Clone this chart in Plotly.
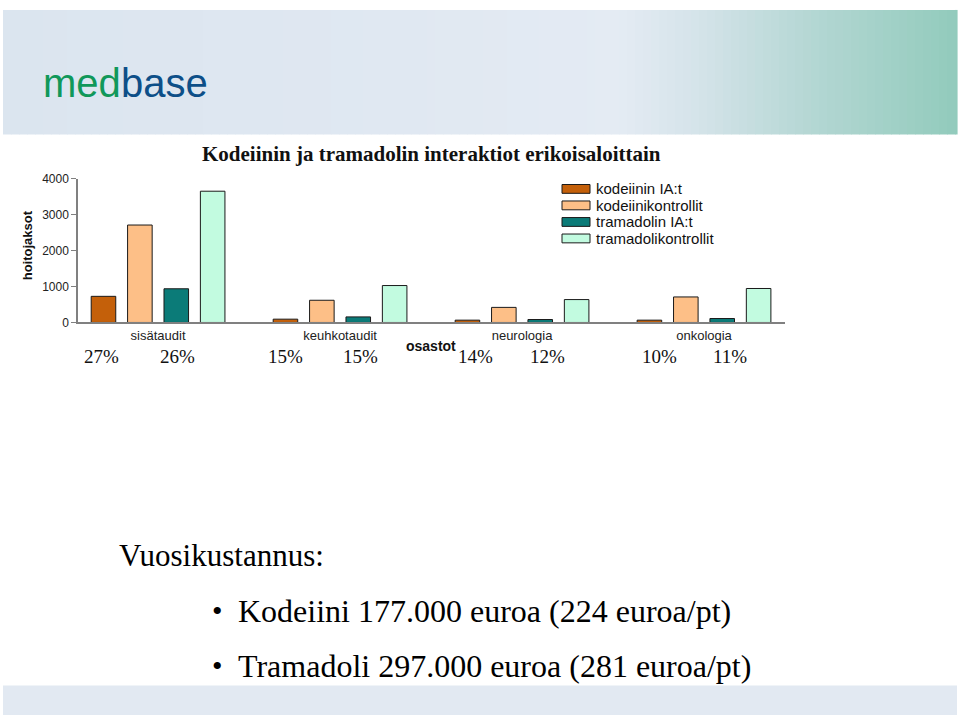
import plotly.graph_objects as go

W, H = 960, 724

# ---------------- data ----------------
categories = ["sisätaudit", "keuhkotaudit", "neurologia", "onkologia"]
series_names = ["kodeiinin IA:t", "kodeiinikontrollit", "tramadolin IA:t", "tramadolikontrollit"]
kodeiini_ia = [727, 92, 65, 65]
kodeiini_kontrollit = [2710, 618, 420, 710]
tramadoli_ia = [937, 155, 82, 110]
tramadoli_kontrollit = [3650, 1027, 637, 945]
series_values = [kodeiini_ia, kodeiini_kontrollit, tramadoli_ia, tramadoli_kontrollit]
y_ticks = [0, 1000, 2000, 3000, 4000]
percent_labels = ["27%", "26%", "15%", "15%", "14%", "12%", "10%", "11%"]

colors = ["#c4600a", "#fdbf87", "#0b7b78", "#c2fbe0"]


def px(x):
    return x / W


def py(y):
    return 1 - y / H


fig = go.Figure()
for name, vals, col in zip(series_names, series_values, colors):
    fig.add_trace(go.Bar(
        x=categories, y=vals, name=name,
        marker=dict(color=col, line=dict(color="#1a1a1a", width=1)),
        showlegend=False,
    ))

shapes = []
annotations = []

# header gradient band
stops = [(3, (219, 229, 239)), (400, (224, 232, 242)), (620, (228, 235, 243)),
         (700, (212, 227, 233)), (820, (178, 214, 210)), (957, (146, 203, 188))]


def grad(x):
    for (x0, c0), (x1, c1) in zip(stops[:-1], stops[1:]):
        if x0 <= x <= x1:
            t = (x - x0) / (x1 - x0)
            return tuple(int(round(a + (b - a) * t)) for a, b in zip(c0, c1))
    return stops[-1][1]


step = 8
x = 3
while x < 957:
    x2 = min(x + step, 957)
    c = grad((x + x2) / 2)
    shapes.append(dict(type="rect", xref="paper", yref="paper",
                       x0=px(x), x1=px(x2 + 0.6), y0=py(130), y1=py(3),
                       fillcolor="rgb(%d,%d,%d)" % c, line=dict(width=0), layer="below"))
    x = x2

# bottom band
shapes.append(dict(type="rect", xref="paper", yref="paper",
                   x0=px(3), x1=px(957), y0=py(722), y1=py(692),
                   fillcolor="#e2e9f2", line=dict(width=0), layer="below"))

# logo
logo_font = "Liberation Sans, Arial"
annotations.append(dict(x=px(41), y=py(77), xref="paper", yref="paper", text="med",
                        showarrow=False, xanchor="left", yanchor="middle",
                        font=dict(family=logo_font, size=40, color="#10985a")))
annotations.append(dict(x=px(119), y=py(77), xref="paper", yref="paper", text="base",
                        showarrow=False, xanchor="left", yanchor="middle",
                        font=dict(family=logo_font, size=40, color="#0d4f88")))

# title
annotations.append(dict(x=px(431), y=py(150), xref="paper", yref="paper",
                        text="<b>Kodeiinin ja tramadolin interaktiot erikoisaloittain</b>",
                        showarrow=False, xanchor="center", yanchor="middle",
                        font=dict(family="Liberation Serif, Times New Roman", size=21, color="#111")))

# y axis title
annotations.append(dict(x=px(27), y=py(243), xref="paper", yref="paper",
                        text="<b>hoitojaksot</b>", textangle=-90,
                        showarrow=False, xanchor="center", yanchor="middle",
                        font=dict(family="Liberation Sans, Arial", size=13, color="#111")))

# x axis title
annotations.append(dict(x=px(431), y=py(346), xref="paper", yref="paper",
                        text="<b>osastot</b>",
                        showarrow=False, xanchor="center", yanchor="middle",
                        font=dict(family="Liberation Sans, Arial", size=14, color="#111")))

# legend (custom swatches)
leg_rows = [185.5, 202.3, 219.2, 236]
for name, col, yc in zip(series_names, colors, leg_rows):
    shapes.append(dict(type="rect", xref="paper", yref="paper",
                       x0=px(562), x1=px(590), y0=py(yc + 4.5), y1=py(yc - 4.5),
                       fillcolor=col, line=dict(color="#1a1a1a", width=1)))
    annotations.append(dict(x=px(594), y=py(yc), xref="paper", yref="paper", text=name,
                            showarrow=False, xanchor="left", yanchor="middle",
                            font=dict(family="Liberation Sans, Arial", size=15, color="#111")))

# percentage labels under the bars
pct_offsets = [-0.31, 0.108, -0.302, 0.115, -0.254, 0.14, -0.247, 0.143]
for i, (lab, off) in enumerate(zip(percent_labels, pct_offsets)):
    annotations.append(dict(x=i // 2 + off, y=py(356), xref="x", yref="paper", text=lab,
                            showarrow=False, xanchor="center", yanchor="middle",
                            font=dict(family="Liberation Serif, Times New Roman", size=19, color="#111")))

# bottom texts
serif = "Liberation Serif, Times New Roman"
annotations.append(dict(x=px(117), y=py(559), xref="paper", yref="paper", text="Vuosikustannus:",
                        showarrow=False, xanchor="left", yanchor="middle",
                        font=dict(family=serif, size=31, color="#000")))
for yc, txt in [(616, "Kodeiini 177.000 euroa (224 euroa/pt)"),
                (672, "Tramadoli 297.000 euroa (281 euroa/pt)")]:
    annotations.append(dict(x=px(210), y=py(yc - 1), xref="paper", yref="paper", text="•",
                            showarrow=False, xanchor="left", yanchor="middle",
                            font=dict(family=serif, size=30, color="#000")))
    annotations.append(dict(x=px(236), y=py(yc), xref="paper", yref="paper", text=txt,
                            showarrow=False, xanchor="left", yanchor="middle",
                            font=dict(family=serif, size=32, color="#000")))

fig.update_layout(
    width=W, height=H,
    margin=dict(l=0, r=0, t=0, b=0),
    paper_bgcolor="white", plot_bgcolor="rgba(0,0,0,0)",
    barmode="group", bargap=0.2, bargroupgap=0.325,
    showlegend=False,
    shapes=shapes, annotations=annotations,
    xaxis=dict(domain=[px(78), px(785)], range=[-0.44, 3.445], type="category",
               showline=True, linecolor="#808080", linewidth=1.5,
               showgrid=False, zeroline=False, ticks="",
               tickfont=dict(family="Liberation Sans, Arial", size=13, color="#222")),
    yaxis=dict(domain=[py(321.7), py(175)], range=[0, 4000],
               tickvals=y_ticks, ticks="outside", ticklen=5, tickcolor="#808080",
               showline=True, linecolor="#808080", linewidth=1.5,
               showgrid=False, zeroline=False,
               tickfont=dict(family="Liberation Sans, Arial", size=12, color="#222")),
)

fig.write_html("out.html")
